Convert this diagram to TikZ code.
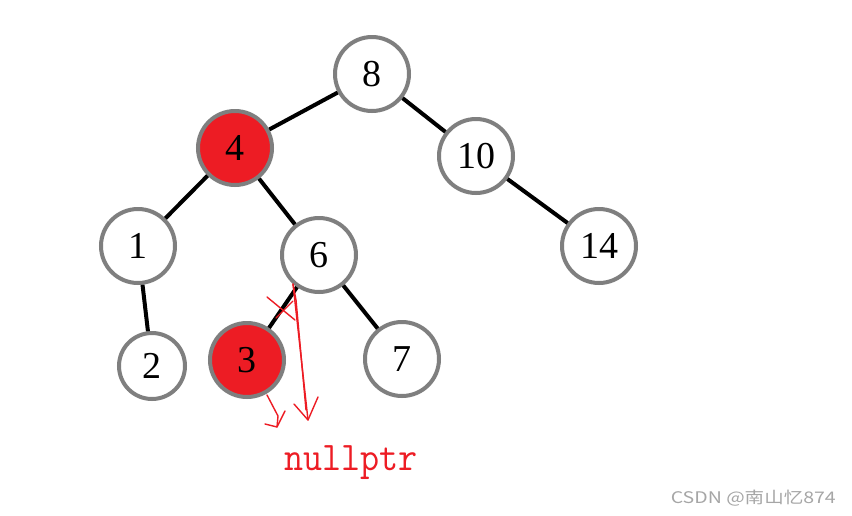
\documentclass[tikz,border=0pt]{standalone}
\usepackage{fontspec}
\setmainfont{Liberation Serif}
\newfontfamily\cjkfnt{Noto Sans CJK SC}
\definecolor{nodegray}{HTML}{7F7F7F}
\definecolor{paintred}{HTML}{ED1C24}
\definecolor{wmgray}{HTML}{A6A6A6}
\begin{document}
\begin{tikzpicture}[x=1pt,y=-1pt,
  treenode/.style={circle,draw=nodegray,line width=4pt,fill=white,minimum size=74pt,inner sep=0pt,font=\fontsize{38}{40}\selectfont},
  rednode/.style={treenode,fill=paintred},
  treeedge/.style={line width=4pt,black},
  redpen/.style={paintred,line width=1.4pt,line join=round,line cap=round}]
\useasboundingbox (0,0) rectangle (852,515);
\fill[white] (0,0) rectangle (852,515);
\node[treenode] (n8) at (372,74) {8};
\node[rednode] (n4) at (235,148) {4};
\node[treenode] (n10) at (476,156) {10};
\node[treenode] (n1) at (138,246) {1};
\node[treenode] (n6) at (319,255) {6};
\node[treenode] (n14) at (599,246) {14};
\node[treenode,minimum size=66pt] (n2) at (152,366) {2};
\node[rednode] (n3) at (247,360) {3};
\node[treenode] (n7) at (402,359) {7};
\draw[treeedge] (n8) -- (n4);
\draw[treeedge] (n8) -- (n10);
\draw[treeedge] (n4) -- (n1);
\draw[treeedge] (n4) -- (n6);
\draw[treeedge] (n10) -- (n14);
\draw[treeedge] (n1) -- (n2);
\draw[treeedge] (n6) -- (n3);
\draw[treeedge] (n6) -- (n7);
% red annotations
\coordinate (xa1) at (267,297); \coordinate (xa2) at (295,320);
\coordinate (xb1) at (276,318); \coordinate (xb2) at (293,301);
\draw[redpen] (xa1) -- (xa2);
\draw[redpen] (xb1) -- (xb2);
\coordinate (la) at (293,284); \coordinate (lb) at (297,320); \coordinate (lc) at (308,420);
\draw[redpen] (la) -- (lb) -- (lc);
\draw[redpen] (la) -- (296,300) -- (306,410);
\draw[redpen] (294,404) -- (lc) -- (318,397);
\coordinate (sa) at (267,395); \coordinate (sb) at (278,416); \coordinate (sc) at (277,427);
\draw[redpen] (sa) -- (sb) -- (sc);
\draw[redpen] (265,424) -- (sc) -- (285,411);
\node[anchor=base,text=paintred,inner sep=0pt] (np) at (351,470) {\scalebox{1}[1.1]{\ttfamily\fontsize{37}{39}\selectfont nullptr}};
\node[anchor=base east,text=wmgray,inner sep=0pt] (wm) at (836,503) {\scalebox{1.22}[1]{\cjkfnt\fontsize{16}{18}\selectfont CSDN @南山忆874}};
\end{tikzpicture}
\end{document}
